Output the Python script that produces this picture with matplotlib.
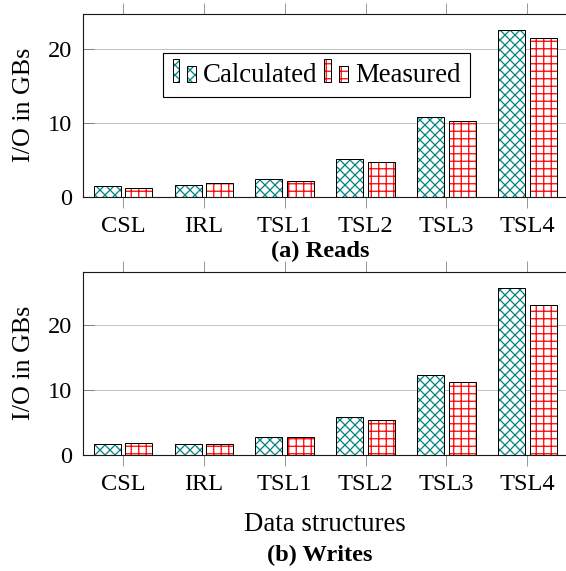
import matplotlib
matplotlib.use("Agg")
import matplotlib.pyplot as plt
from matplotlib.patches import Rectangle
from matplotlib.legend_handler import HandlerBase
import numpy as np

categories = ["CSL", "IRL", "TSL1", "TSL2", "TSL3", "TSL4"]
reads_calculated = [1.45, 1.55, 2.36, 5.11, 10.85, 22.6]
reads_measured = [1.18, 1.86, 2.09, 4.75, 10.23, 21.57]
writes_calculated = [1.66, 1.71, 2.69, 5.79, 12.3, 25.74]
writes_measured = [1.86, 1.71, 2.69, 5.38, 11.22, 23.16]
series_labels = ["Calculated", "Measured"]
yticks = [0, 10, 20]

DPI = 90
W, H = 566, 571
FS = 19.5
FS_LEG = 21.5
FS_LAB = 20.8
TEAL = "#008080"
RED = "#ff0000"

plt.rcParams["font.family"] = ["Liberation Serif", "DejaVu Serif"]
plt.rcParams["hatch.linewidth"] = 1.0
plt.rcParams["font.size"] = FS

fig = plt.figure(figsize=(W / DPI, H / DPI), dpi=DPI)

left_px, right_px = 82.7, 567.7
panels = [(13.5, 196.7), (271.7, 454.7)]


def make_ax(top_px, bot_px):
    return fig.add_axes([left_px / W, 1 - bot_px / H,
                         (right_px - left_px) / W, (bot_px - top_px) / H])


class TwoBarHandler(HandlerBase):
    def __init__(self, color, hatch):
        super().__init__()
        self.color = color
        self.hatch = hatch

    def create_artists(self, legend, orig_handle, xdescent, ydescent,
                       width, height, fontsize, trans):
        arts = []
        for x0, x1, h in [(0.0, 0.28, 0.83), (0.62, 0.98, 0.58)]:
            r = Rectangle((x0 * width - xdescent, -ydescent),
                          (x1 - x0) * width, h * fontsize,
                          facecolor="white", edgecolor=self.color,
                          hatch=self.hatch, linewidth=0, transform=trans)
            e = Rectangle((x0 * width - xdescent, -ydescent),
                          (x1 - x0) * width, h * fontsize,
                          fill=False, edgecolor="black", linewidth=0.8,
                          transform=trans)
            arts += [r, e]
        return arts


def draw_panel(ax, calc, meas, legend=False):
    x = np.arange(len(categories))
    off = 0.196
    bw = 0.334
    for vals, pos, col, hatch in [(calc, x - off, TEAL, "xxx"),
                                  (meas, x + off, RED, "++")]:
        ax.bar(pos, vals, bw, color="white", edgecolor=col, hatch=hatch,
               linewidth=0, zorder=2)
        ax.bar(pos, vals, bw, fill=False, edgecolor="black",
               linewidth=0.8, zorder=3)
    ax.set_xlim(-0.5, len(categories) - 0.5)
    ax.set_ylim(0, max(calc + meas) * 1.1)
    ax.set_xticks(x)
    ax.set_xticklabels(categories)
    ax.set_yticks(yticks)
    ax.yaxis.grid(True, color="#c4c4c4", linewidth=0.8)
    ax.set_axisbelow(True)
    ax.tick_params(axis="x", direction="out", top=True, length=8.5,
                   width=0.8, color="#9a9a9a", pad=7.0, labelsize=FS)
    ax.tick_params(axis="y", direction="in", length=8.5, width=0.8,
                   color="#808080", pad=8.5, labelsize=FS)
    for s in ["top", "left", "bottom", "right"]:
        ax.spines[s].set_linewidth(0.9)
        ax.spines[s].set_color("#1a1a1a")
    ax.set_ylabel("I/O in GBs", fontsize=FS_LAB)
    ax.yaxis.set_label_coords((24 - left_px) / (right_px - left_px), 0.5)
    ax.yaxis.label.set_verticalalignment("center")
    if legend:
        h1 = Rectangle((0, 0), 1, 1)
        h2 = Rectangle((0, 0), 1, 1)
        leg = ax.legend([h1, h2], series_labels, ncol=2, loc="center",
                        bbox_to_anchor=(0.482, 0.664), fontsize=FS_LEG,
                        handler_map={h1: TwoBarHandler(TEAL, "xxx"),
                                     h2: TwoBarHandler(RED, "++")},
                        handlelength=0.89, handletextpad=0.25,
                        columnspacing=0.24, borderpad=0.36,
                        fancybox=False, framealpha=1.0, edgecolor="black")
        leg.get_frame().set_linewidth(0.9)
        leg.set_zorder(5)


ax1 = make_ax(*panels[0])
draw_panel(ax1, reads_calculated, reads_measured, legend=True)
ax2 = make_ax(*panels[1])
draw_panel(ax2, writes_calculated, writes_measured)

cx = 320 / W
fig.text(cx, 1 - 257.3 / H, "(a) Reads", ha="center", va="baseline",
         fontsize=FS, fontweight="bold")
fig.text(324.5 / W, 1 - 530.7 / H, "Data structures", ha="center",
         va="baseline", fontsize=FS_LEG)
fig.text(cx, 1 - 561.5 / H, "(b) Writes", ha="center", va="baseline",
         fontsize=FS, fontweight="bold")

fig.savefig("out.png", dpi=DPI)
